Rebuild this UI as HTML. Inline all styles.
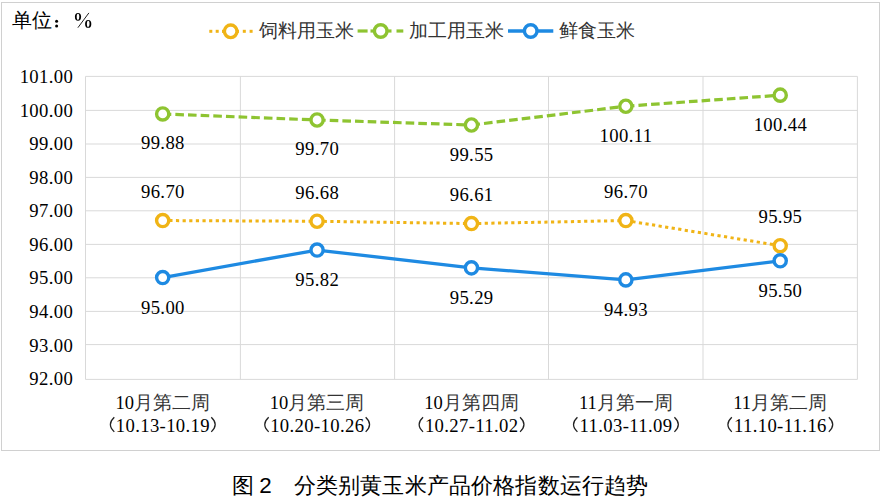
<!DOCTYPE html><html><head><meta charset="utf-8"><style>html,body{margin:0;padding:0;background:#fff;width:885px;height:500px;overflow:hidden}svg{display:block}</style></head><body>
<svg width="885" height="500" viewBox="0 0 885 500">
<rect x="1.5" y="2.5" width="878" height="448" fill="#fff" stroke="#D0D0D0" stroke-width="1"/>
<line x1="85.5" y1="76.40" x2="857.4" y2="76.40" stroke="#D9D9D9" stroke-width="1"/>
<line x1="85.5" y1="110.40" x2="857.4" y2="110.40" stroke="#D9D9D9" stroke-width="1"/>
<line x1="85.5" y1="144.00" x2="857.4" y2="144.00" stroke="#D9D9D9" stroke-width="1"/>
<line x1="85.5" y1="177.40" x2="857.4" y2="177.40" stroke="#D9D9D9" stroke-width="1"/>
<line x1="85.5" y1="210.80" x2="857.4" y2="210.80" stroke="#D9D9D9" stroke-width="1"/>
<line x1="85.5" y1="244.40" x2="857.4" y2="244.40" stroke="#D9D9D9" stroke-width="1"/>
<line x1="85.5" y1="277.80" x2="857.4" y2="277.80" stroke="#D9D9D9" stroke-width="1"/>
<line x1="85.5" y1="311.40" x2="857.4" y2="311.40" stroke="#D9D9D9" stroke-width="1"/>
<line x1="85.5" y1="344.60" x2="857.4" y2="344.60" stroke="#D9D9D9" stroke-width="1"/>
<line x1="85.5" y1="379.40" x2="857.4" y2="379.40" stroke="#D9D9D9" stroke-width="1"/>
<line x1="85.50" y1="76.4" x2="85.50" y2="379.40" stroke="#D9D9D9" stroke-width="1"/>
<line x1="240.40" y1="76.4" x2="240.40" y2="379.40" stroke="#D9D9D9" stroke-width="1"/>
<line x1="394.60" y1="76.4" x2="394.60" y2="379.40" stroke="#D9D9D9" stroke-width="1"/>
<line x1="548.50" y1="76.4" x2="548.50" y2="379.40" stroke="#D9D9D9" stroke-width="1"/>
<line x1="703.00" y1="76.4" x2="703.00" y2="379.40" stroke="#D9D9D9" stroke-width="1"/>
<line x1="857.40" y1="76.4" x2="857.40" y2="379.40" stroke="#D9D9D9" stroke-width="1"/>
<g font-family="Liberation Serif" font-size="18.7" fill="#000" text-anchor="end" letter-spacing="0.35">
<text x="73.14999999999999" y="83.30">101.00</text>
<text x="73.14999999999999" y="116.83">100.00</text>
<text x="73.14999999999999" y="150.35">99.00</text>
<text x="73.14999999999999" y="183.88">98.00</text>
<text x="73.14999999999999" y="217.40">97.00</text>
<text x="73.14999999999999" y="250.93">96.00</text>
<text x="73.14999999999999" y="284.45">95.00</text>
<text x="73.14999999999999" y="317.97">94.00</text>
<text x="73.14999999999999" y="351.50">93.00</text>
<text x="73.14999999999999" y="385.02">92.00</text>
</g>
<line x1="162.69" y1="220.56" x2="317.07" y2="221.23" stroke="#F0B416" stroke-width="3.0" stroke-dasharray="3.2 3.43"/>
<line x1="317.07" y1="221.23" x2="471.45" y2="223.57" stroke="#F0B416" stroke-width="3.0" stroke-dasharray="3.2 3.43"/>
<line x1="471.45" y1="223.57" x2="625.83" y2="220.56" stroke="#F0B416" stroke-width="3.0" stroke-dasharray="3.2 3.43"/>
<line x1="625.83" y1="220.56" x2="780.21" y2="245.70" stroke="#F0B416" stroke-width="3.0" stroke-dasharray="3.2 3.43"/>
<line x1="162.69" y1="113.95" x2="317.07" y2="119.98" stroke="#8EC431" stroke-width="3.2" stroke-dasharray="8.6 4.06"/>
<line x1="317.07" y1="119.98" x2="471.45" y2="125.01" stroke="#8EC431" stroke-width="3.2" stroke-dasharray="8.6 4.06"/>
<line x1="471.45" y1="125.01" x2="625.83" y2="106.24" stroke="#8EC431" stroke-width="3.2" stroke-dasharray="8.6 4.06"/>
<line x1="625.83" y1="106.24" x2="780.21" y2="95.17" stroke="#8EC431" stroke-width="3.2" stroke-dasharray="8.6 4.06"/>
<line x1="162.69" y1="277.55" x2="317.07" y2="250.06" stroke="#1E8AE2" stroke-width="3.3" stroke-linecap="round"/>
<line x1="317.07" y1="250.06" x2="471.45" y2="267.83" stroke="#1E8AE2" stroke-width="3.3" stroke-linecap="round"/>
<line x1="471.45" y1="267.83" x2="625.83" y2="279.90" stroke="#1E8AE2" stroke-width="3.3" stroke-linecap="round"/>
<line x1="625.83" y1="279.90" x2="780.21" y2="260.79" stroke="#1E8AE2" stroke-width="3.3" stroke-linecap="round"/>
<circle cx="162.69" cy="220.56" r="6.1" fill="#fff" stroke="#F0B416" stroke-width="3.4"/>
<circle cx="317.07" cy="221.23" r="6.1" fill="#fff" stroke="#F0B416" stroke-width="3.4"/>
<circle cx="471.45" cy="223.57" r="6.1" fill="#fff" stroke="#F0B416" stroke-width="3.4"/>
<circle cx="625.83" cy="220.56" r="6.1" fill="#fff" stroke="#F0B416" stroke-width="3.4"/>
<circle cx="780.21" cy="245.70" r="6.1" fill="#fff" stroke="#F0B416" stroke-width="3.4"/>
<circle cx="162.69" cy="113.95" r="6.1" fill="#fff" stroke="#8EC431" stroke-width="3.4"/>
<circle cx="317.07" cy="119.98" r="6.1" fill="#fff" stroke="#8EC431" stroke-width="3.4"/>
<circle cx="471.45" cy="125.01" r="6.1" fill="#fff" stroke="#8EC431" stroke-width="3.4"/>
<circle cx="625.83" cy="106.24" r="6.1" fill="#fff" stroke="#8EC431" stroke-width="3.4"/>
<circle cx="780.21" cy="95.17" r="6.1" fill="#fff" stroke="#8EC431" stroke-width="3.4"/>
<circle cx="162.69" cy="277.55" r="6.1" fill="#fff" stroke="#1E8AE2" stroke-width="3.4"/>
<circle cx="317.07" cy="250.06" r="6.1" fill="#fff" stroke="#1E8AE2" stroke-width="3.4"/>
<circle cx="471.45" cy="267.83" r="6.1" fill="#fff" stroke="#1E8AE2" stroke-width="3.4"/>
<circle cx="625.83" cy="279.90" r="6.1" fill="#fff" stroke="#1E8AE2" stroke-width="3.4"/>
<circle cx="780.21" cy="260.79" r="6.1" fill="#fff" stroke="#1E8AE2" stroke-width="3.4"/>
<g font-family="Liberation Serif" font-size="18.7" fill="#000" text-anchor="middle" letter-spacing="0.35">
<text x="162.87" y="197.86">96.70</text>
<text x="317.25" y="198.53">96.68</text>
<text x="471.62" y="200.87">96.61</text>
<text x="626.00" y="197.86">96.70</text>
<text x="780.38" y="223.00">95.95</text>
</g>
<g font-family="Liberation Serif" font-size="18.7" fill="#000" text-anchor="middle" letter-spacing="0.35">
<text x="162.87" y="149.45">99.88</text>
<text x="317.25" y="155.48">99.70</text>
<text x="471.62" y="160.51">99.55</text>
<text x="626.00" y="141.74">100.11</text>
<text x="780.38" y="130.67">100.44</text>
</g>
<g font-family="Liberation Serif" font-size="18.7" fill="#000" text-anchor="middle" letter-spacing="0.35">
<text x="162.87" y="313.75">95.00</text>
<text x="317.25" y="286.26">95.82</text>
<text x="471.62" y="304.03">95.29</text>
<text x="626.00" y="316.10">94.93</text>
<text x="780.38" y="296.99">95.50</text>
</g>
<text x="162.69" y="409" font-family="Liberation Serif" font-size="18.5" text-anchor="middle" fill="#000">10<tspan fill="#333">月第二周</tspan></text>
<text x="162.87" y="431.6" font-family="Liberation Serif" font-size="18.7" letter-spacing="0.35" text-anchor="middle" fill="#000">10.13-10.19</text>
<path d="M114.29,417.3 Q106.49,424.6 114.29,431.9" fill="none" stroke="#222" stroke-width="1.3"/>
<path d="M211.29,417.3 Q219.09,424.6 211.29,431.9" fill="none" stroke="#222" stroke-width="1.3"/>
<text x="317.07" y="409" font-family="Liberation Serif" font-size="18.5" text-anchor="middle" fill="#000">10<tspan fill="#333">月第三周</tspan></text>
<text x="317.25" y="431.6" font-family="Liberation Serif" font-size="18.7" letter-spacing="0.35" text-anchor="middle" fill="#000">10.20-10.26</text>
<path d="M268.67,417.3 Q260.87,424.6 268.67,431.9" fill="none" stroke="#222" stroke-width="1.3"/>
<path d="M365.67,417.3 Q373.47,424.6 365.67,431.9" fill="none" stroke="#222" stroke-width="1.3"/>
<text x="471.45" y="409" font-family="Liberation Serif" font-size="18.5" text-anchor="middle" fill="#000">10<tspan fill="#333">月第四周</tspan></text>
<text x="471.62" y="431.6" font-family="Liberation Serif" font-size="18.7" letter-spacing="0.35" text-anchor="middle" fill="#000">10.27-11.02</text>
<path d="M423.05,417.3 Q415.25,424.6 423.05,431.9" fill="none" stroke="#222" stroke-width="1.3"/>
<path d="M520.05,417.3 Q527.85,424.6 520.05,431.9" fill="none" stroke="#222" stroke-width="1.3"/>
<text x="625.83" y="409" font-family="Liberation Serif" font-size="18.5" text-anchor="middle" fill="#000">11<tspan fill="#333">月第一周</tspan></text>
<text x="626.00" y="431.6" font-family="Liberation Serif" font-size="18.7" letter-spacing="0.35" text-anchor="middle" fill="#000">11.03-11.09</text>
<path d="M577.43,417.3 Q569.63,424.6 577.43,431.9" fill="none" stroke="#222" stroke-width="1.3"/>
<path d="M674.43,417.3 Q682.23,424.6 674.43,431.9" fill="none" stroke="#222" stroke-width="1.3"/>
<text x="780.21" y="409" font-family="Liberation Serif" font-size="18.5" text-anchor="middle" fill="#000">11<tspan fill="#333">月第二周</tspan></text>
<text x="780.38" y="431.6" font-family="Liberation Serif" font-size="18.7" letter-spacing="0.35" text-anchor="middle" fill="#000">11.10-11.16</text>
<path d="M731.81,417.3 Q724.01,424.6 731.81,431.9" fill="none" stroke="#222" stroke-width="1.3"/>
<path d="M828.81,417.3 Q836.61,424.6 828.81,431.9" fill="none" stroke="#222" stroke-width="1.3"/>
<text x="12.2" y="27" font-family="Liberation Serif" font-size="19.5" fill="#000">单位</text>
<circle cx="56.6" cy="21.2" r="1.5" fill="#000"/><circle cx="56.6" cy="26" r="1.5" fill="#000"/>
<ellipse cx="78" cy="16.8" rx="3.1" ry="3.9" fill="#000"/><ellipse cx="78" cy="16.8" rx="1.3" ry="3.1" fill="#fff"/>
<ellipse cx="88.2" cy="23.9" rx="3.1" ry="3.9" fill="#000"/><ellipse cx="88.2" cy="23.9" rx="1.3" ry="3.1" fill="#fff"/>
<line x1="88.9" y1="12.9" x2="77.9" y2="27.7" stroke="#222" stroke-width="1.0"/>
<rect x="209.3" y="29.8" width="3" height="3" fill="#F0B416"/>
<rect x="215.7" y="29.8" width="3" height="3" fill="#F0B416"/>
<rect x="242.8" y="29.8" width="3" height="3" fill="#F0B416"/>
<rect x="249.6" y="29.8" width="3" height="3" fill="#F0B416"/>
<line x1="222" y1="31.3" x2="239" y2="31.3" stroke="#F0B416" stroke-width="3.2"/>
<circle cx="230.7" cy="31.3" r="6.3" fill="#fff" stroke="#F0B416" stroke-width="3.4"/>
<line x1="357.6" y1="31" x2="367.6" y2="31" stroke="#8EC431" stroke-width="3.2"/>
<line x1="396.5" y1="31" x2="403.3" y2="31" stroke="#8EC431" stroke-width="3.2"/>
<line x1="370.5" y1="31" x2="391.5" y2="31" stroke="#8EC431" stroke-width="3.2"/>
<circle cx="380.7" cy="31" r="6.3" fill="#fff" stroke="#8EC431" stroke-width="3.4"/>
<line x1="508" y1="31" x2="553.3" y2="31" stroke="#1E8AE2" stroke-width="3.3"/>
<circle cx="530.7" cy="31" r="6.3" fill="#fff" stroke="#1E8AE2" stroke-width="3.4"/>
<g font-family="Liberation Sans" font-size="18.5" fill="#333">
<text x="259" y="36.8">饲料用玉米</text>
<text x="408.5" y="36.8">加工用玉米</text>
<text x="559" y="36.8">鲜食玉米</text>
</g>
<g font-family="Liberation Sans" font-size="22.4" fill="#000">
<text x="231.8" y="493">图</text><text x="259.3" y="493">2</text><text x="293.8" y="493" font-size="22.3" letter-spacing="0.17">分类别黄玉米产品价格指数运行趋势</text>
</g>
</svg></body></html>
